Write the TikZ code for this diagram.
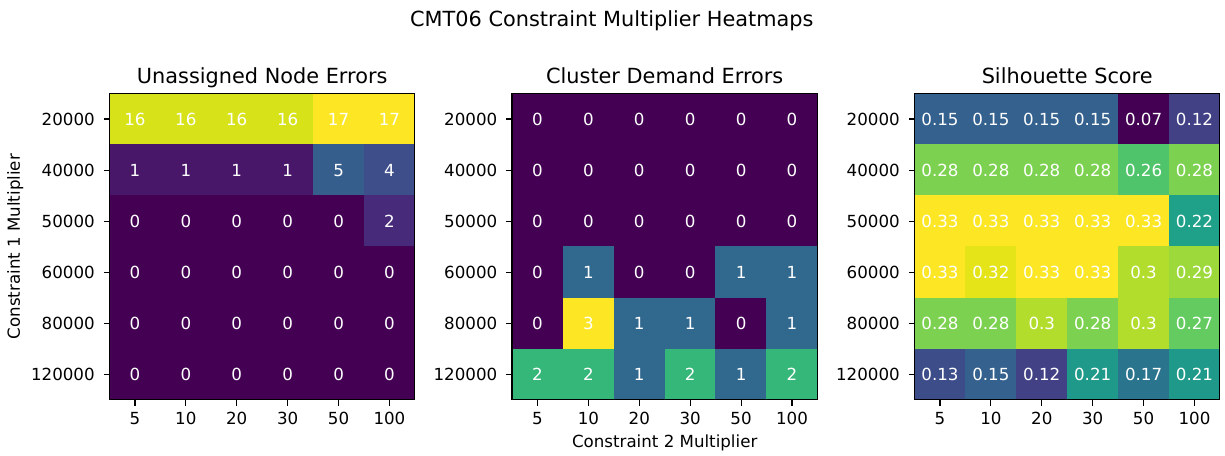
\documentclass[tikz,border=0pt]{standalone}
\usepackage{fontspec}
\setmainfont{DejaVu Sans}
% viridis colours
\definecolor{A0}{HTML}{440154}
\definecolor{A1}{HTML}{481769}
\definecolor{A2}{HTML}{472A7A}
\definecolor{A4}{HTML}{3D4E8A}
\definecolor{A5}{HTML}{355E8D}
\definecolor{A16}{HTML}{D8E219}
\definecolor{A17}{HTML}{FDE725}
\definecolor{B0}{HTML}{440154}
\definecolor{B1}{HTML}{31688E}
\definecolor{B2}{HTML}{35B779}
\definecolor{B3}{HTML}{FDE725}
\definecolor{C07}{HTML}{440154}
\definecolor{C12}{HTML}{424186}
\definecolor{C13}{HTML}{3D4D8A}
\definecolor{C15}{HTML}{34618D}
\definecolor{C17}{HTML}{2B748E}
\definecolor{C21}{HTML}{1F9A8A}
\definecolor{C22}{HTML}{1FA088}
\definecolor{C26}{HTML}{50C46A}
\definecolor{C27}{HTML}{63CB5F}
\definecolor{C28}{HTML}{7CD250}
\definecolor{C29}{HTML}{9DD93B}
\definecolor{C30}{HTML}{B2DD2D}
\definecolor{C32}{HTML}{E5E419}
\definecolor{C33}{HTML}{FDE725}
\def\cw{50.9}
\def\ch{51.05}
\def\ytop{93.5}
\def\ybot{399.8}
\newcommand\hrow[4]{%
  \foreach \cc/\lab [count=\j from 0] in {#4}{
    \node[cell, fill=\cc] (#1r#3c\j) at ({#2+(\j+0.5)*\cw},{\ytop+(#3+0.5)*\ch}) {\lab};
  }}
\newcommand\axes[2]{%
  \draw[frame] (#2,\ytop) rectangle ({#2+6*\cw},\ybot);
  \foreach \t [count=\j from 0] in {5,10,20,30,50,100}{
    \draw[tickl] ({#2+(\j+0.5)*\cw},\ybot) -- ({#2+(\j+0.5)*\cw},{\ybot+6});
    \node[ticklab, anchor=base] (#1x\j) at ({#2+(\j+0.5)*\cw},424) {\t};
  }
  \foreach \t [count=\j from 0] in {20000,40000,50000,60000,80000,120000}{
    \draw[tickl] (#2,{\ytop+(\j+0.5)*\ch}) -- ({#2-6},{\ytop+(\j+0.5)*\ch});
    \node[ticklab, anchor=east] (#1y\j) at ({#2-14.5},{\ytop+(\j+0.5)*\ch}) {\t};
  }}
\begin{document}
\begin{tikzpicture}[x=0.72pt,y=-0.72pt,
  cell/.style={rectangle, draw=none, inner sep=0pt, minimum width=36.9pt, minimum height=37.0pt,
    text=white, font=\fontsize{12}{14}\selectfont},
  frame/.style={draw=black, line width=0.8pt},
  tickl/.style={draw=black, line width=0.8pt},
  ticklab/.style={inner sep=0pt, text=black, font=\fontsize{12}{14}\selectfont},
  ttl/.style={inner sep=0pt, text=black, font=\fontsize{15}{18}\selectfont, anchor=base}]
\useasboundingbox (0,0) rectangle (1225,455);
\fill[white] (0,0) rectangle (1225,455);
% panel 1
\hrow{p1}{109.5}{0}{A16/16,A16/16,A16/16,A16/16,A17/17,A17/17}
\hrow{p1}{109.5}{1}{A1/1,A1/1,A1/1,A1/1,A5/5,A4/4}
\hrow{p1}{109.5}{2}{A0/0,A0/0,A0/0,A0/0,A0/0,A2/2}
\hrow{p1}{109.5}{3}{A0/0,A0/0,A0/0,A0/0,A0/0,A0/0}
\hrow{p1}{109.5}{4}{A0/0,A0/0,A0/0,A0/0,A0/0,A0/0}
\hrow{p1}{109.5}{5}{A0/0,A0/0,A0/0,A0/0,A0/0,A0/0}
\axes{p1}{109.5}
% panel 2
\hrow{p2}{512}{0}{B0/0,B0/0,B0/0,B0/0,B0/0,B0/0}
\hrow{p2}{512}{1}{B0/0,B0/0,B0/0,B0/0,B0/0,B0/0}
\hrow{p2}{512}{2}{B0/0,B0/0,B0/0,B0/0,B0/0,B0/0}
\hrow{p2}{512}{3}{B0/0,B1/1,B0/0,B0/0,B1/1,B1/1}
\hrow{p2}{512}{4}{B0/0,B3/3,B1/1,B1/1,B0/0,B1/1}
\hrow{p2}{512}{5}{B2/2,B2/2,B1/1,B2/2,B1/1,B2/2}
\axes{p2}{512}
% panel 3
\hrow{p3}{914.5}{0}{C15/0.15,C15/0.15,C15/0.15,C15/0.15,C07/0.07,C12/0.12}
\hrow{p3}{914.5}{1}{C28/0.28,C28/0.28,C28/0.28,C28/0.28,C26/0.26,C28/0.28}
\hrow{p3}{914.5}{2}{C33/0.33,C33/0.33,C33/0.33,C33/0.33,C33/0.33,C22/0.22}
\hrow{p3}{914.5}{3}{C33/0.33,C32/0.32,C33/0.33,C33/0.33,C30/0.3,C29/0.29}
\hrow{p3}{914.5}{4}{C28/0.28,C28/0.28,C30/0.3,C28/0.28,C30/0.3,C27/0.27}
\hrow{p3}{914.5}{5}{C13/0.13,C15/0.15,C12/0.12,C21/0.21,C17/0.17,C21/0.21}
\axes{p3}{914.5}
% titles
\node[ttl] (sup) at (611.8,26) {CMT06 Constraint Multiplier Heatmaps};
\node[ttl] (t1) at ({109.5+3*\cw},83) {Unassigned Node Errors};
\node[ttl] (t2) at ({512+3*\cw},83) {Cluster Demand Errors};
\node[ttl] (t3) at ({914.5+3*\cw},83) {Silhouette Score};
\node[ticklab, anchor=base] (xl) at ({512+3*\cw},447) {Constraint 2 Multiplier};
\node[ticklab, rotate=90, anchor=base] (yl) at (20,{(\ytop+\ybot)/2}) {Constraint 1 Multiplier};
\end{tikzpicture}
\end{document}
